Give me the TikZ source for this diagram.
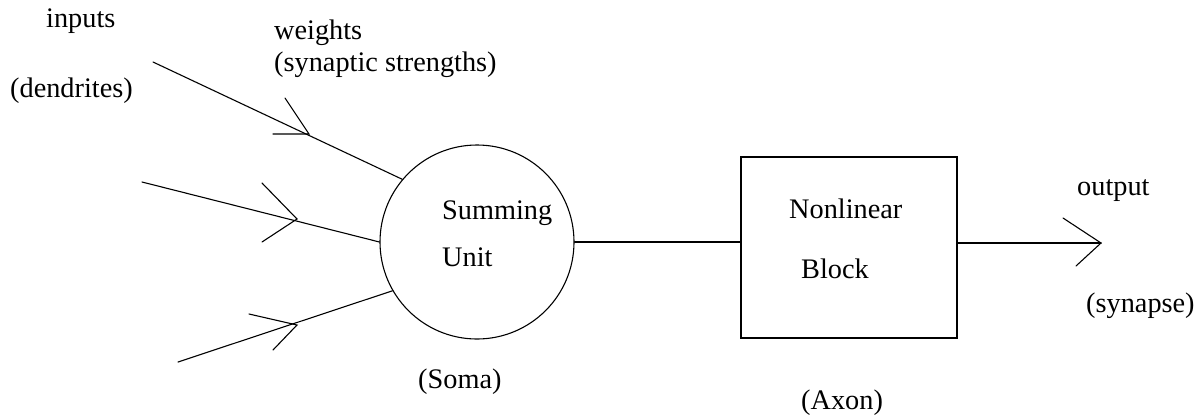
\documentclass[tikz,border=0pt]{standalone}
\usepackage{fontspec}
\setmainfont{Liberation Serif}
\tikzset{
  lbl/.style={inner sep=0pt, anchor=base west, font=\fontsize{28.3}{34}\selectfont},
  ln/.style={line width=1.1pt, line cap=round, line join=miter},
}
\begin{document}
\begin{tikzpicture}[x=1pt,y=-1pt]
\useasboundingbox (0,0) rectangle (1202,416);
% main shapes
\node[ln, draw, circle, minimum size=194pt, inner sep=0pt] (soma) at (477,242) {};
\node[ln, draw, rectangle, minimum width=216pt, minimum height=181pt, inner sep=0pt] (block) at (849,247.5) {};
% input lines
\coordinate (in1) at (153,62);
\coordinate (in2) at (142,182);
\coordinate (in3) at (178,362);
\draw[ln] (in1) -- (soma.140);
\draw[ln] (in2) -- (soma.180);
\draw[ln] (in3) -- (soma.210);
% weight chevrons
\draw[ln] (285,98) -- (309,134) -- (273,134);
\draw[ln] (262,183) -- (297,219) -- (262,242);
\draw[ln] (249,314) -- (297,325) -- (273,350);
% soma to block
\draw[ln] (soma.east) -- (soma.east -| block.west);
% output
\coordinate (outtip) at (1101,243);
\draw[ln] (outtip -| block.east) -- (outtip);
\draw[ln] (1063,218) -- (outtip) -- (1076,266);
% labels
\node[lbl] (tinputs) at (46,27) {inputs};
\node[lbl] (tdend) at (10,97) {(dendrites)};
\node[lbl] (tweights) at (274,39) {weights};
\node[lbl] (tsyn) at (274,71) {(synaptic strengths)};
\node[lbl] (tsum) at (442,219) {Summing};
\node[lbl] (tunit) at (442,266) {Unit};
\node[lbl] (tsoma) at (418,388) {(Soma)};
\node[lbl] (tnon) at (789,218) {Nonlinear};
\node[lbl] (tblock) at (801,278) {Block};
\node[lbl] (taxon) at (801,409) {(Axon)};
\node[lbl] (tout) at (1077,195) {output};
\node[lbl] (tsynapse) at (1086,312) {(synapse)};
\end{tikzpicture}
\end{document}
